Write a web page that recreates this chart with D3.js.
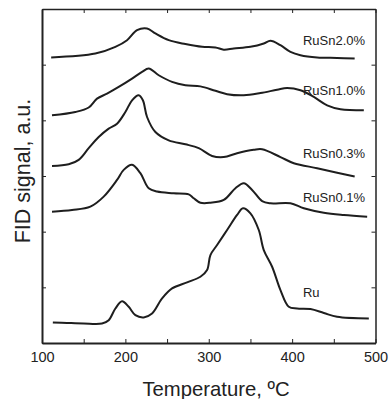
<!DOCTYPE html>
<html>
<head>
<meta charset="utf-8">
<script src="https://cdn.jsdelivr.net/npm/d3@7"></script>
<style>
  body { margin: 0; background: #fff; }
  svg { display: block; font-family: "Liberation Sans", Arial, sans-serif; }
  .axis path, .axis line { stroke: #222; }
  .axis text { fill: #222; font-size: 14.5px; font-family: "Liberation Sans", Arial, sans-serif; }
  .line { fill: none; stroke: #1e1e1e; stroke-width: 2; }
</style>
</head>
<body>
<svg width="390" height="399"></svg>
<script>
// TPR curves, temperature in C, signal in a.u. (offset stack)
var ru20T = [111,164,188,202,214,226,236,252,272,292,308,318,330,350,366,374,386,398,410,430,454,475];
var ru20V = [5.13,5.20,5.32,5.44,5.62,5.65,5.56,5.44,5.37,5.32,5.31,5.27,5.29,5.32,5.38,5.43,5.35,5.23,5.17,5.13,5.12,5.11];

var ru10T = [112,140,156,166,178,192,208,220,228,240,256,272,290,308,322,342,362,382,394,410,426,442,458,486];
var ru10V = [4.09,4.15,4.23,4.39,4.48,4.60,4.75,4.87,4.93,4.81,4.69,4.63,4.61,4.53,4.47,4.45,4.49,4.55,4.58,4.54,4.42,4.27,4.20,4.18];

var ru03T = [112,132,144,156,168,180,190,200,208,216,221,226,236,252,272,288,304,318,334,354,364,386,402,430,454,475];
var ru03V = [3.18,3.21,3.29,3.50,3.70,3.85,3.94,4.15,4.36,4.45,4.36,4.06,3.79,3.64,3.57,3.50,3.36,3.34,3.41,3.47,3.48,3.34,3.23,3.14,3.06,2.99];

var ru01T = [112,136,158,174,190,198,208,218,228,238,258,276,282,290,302,318,332,342,352,364,374,398,414,438,462,490];
var ru01V = [2.36,2.39,2.45,2.63,2.93,3.11,3.20,3.05,2.78,2.72,2.69,2.67,2.60,2.52,2.52,2.57,2.78,2.87,2.75,2.55,2.51,2.51,2.42,2.34,2.30,2.27];

var ruT = [113,130,150,172,180,188,196,204,212,222,232,244,256,274,290,298,302,310,322,334,341,350,360,366,376,386,396,406,422,438,454,492];
var ruV = [0.37,0.36,0.35,0.35,0.41,0.62,0.75,0.65,0.50,0.46,0.53,0.80,0.98,1.09,1.19,1.31,1.58,1.76,2.03,2.30,2.42,2.33,2.03,1.67,1.37,0.95,0.65,0.62,0.61,0.54,0.47,0.44];

var seriesNames = ["RuSn2.0%","RuSn1.0%","RuSn0.3%","RuSn0.1%","Ru"];
var labelT = [413,413,413,413,413];
var labelV = [5.35,4.45,3.33,2.54,0.83];

var xTicks = [100,150,200,250,300,350,400,450,500];
var yTicks = [0,1,2,3,4,5,6];

var svg = d3.select("svg"),
  margin = {top: 9, right: 14.5, bottom: 56, left: 42},
  width = +svg.attr("width") - margin.left - margin.right,
  height = +svg.attr("height") - margin.top - margin.bottom,
  g = svg.append("g").attr("transform", "translate(" + margin.left + "," + margin.top + ")");

var x = d3.scaleLinear().domain([100, 500]).range([0, width]);
var y = d3.scaleLinear().domain([0, 6]).range([height, 0]);

var allT = [ru20T, ru10T, ru03T, ru01T, ruT];
var allV = [ru20V, ru10V, ru03V, ru01V, ruV];

var line = d3.line()
  .x(function(d) { return x(d[0]); })
  .y(function(d) { return y(d[1]); })
  .curve(d3.curveCatmullRom.alpha(0.5));

allT.forEach(function(ts, i) {
  var pts = ts.map(function(t, j) { return [t, allV[i][j]]; });
  g.append("path")
    .datum(pts)
    .attr("class", "line")
    .attr("d", line);
});

// frame axes, ticks inward
g.append("g")
  .attr("class", "axis")
  .attr("transform", "translate(0," + height + ")")
  .call(d3.axisBottom(x).tickValues(xTicks).tickSizeInner(-4).tickSizeOuter(0).tickPadding(9)
    .tickFormat(function(d) { return d % 100 === 0 ? d : ""; }))
  .call(function(a) { a.select(".domain").attr("stroke-width", 2); });

g.append("g")
  .attr("class", "axis")
  .call(d3.axisTop(x).tickValues(xTicks).tickSizeInner(-4).tickSizeOuter(0).tickFormat(""))
  .call(function(a) { a.select(".domain").attr("stroke-width", 1.5); });

g.append("g")
  .attr("class", "axis")
  .call(d3.axisLeft(y).tickValues(yTicks).tickSizeInner(-4).tickSizeOuter(0).tickFormat(""))
  .call(function(a) { a.select(".domain").attr("stroke-width", 2); });

g.append("g")
  .attr("class", "axis")
  .attr("transform", "translate(" + width + ",0)")
  .call(d3.axisRight(y).tickValues(yTicks).tickSizeInner(-4).tickSizeOuter(0).tickFormat(""))
  .call(function(a) { a.select(".domain").attr("stroke-width", 1.5); });

// series labels
seriesNames.forEach(function(name, i) {
  g.append("text")
    .attr("x", x(labelT[i]))
    .attr("y", y(labelV[i]))
    .attr("fill", "#222")
    .style("font-size", "13px")
    .text(name);
});

// axis titles
svg.append("text")
  .attr("x", 216)
  .attr("y", 396)
  .attr("text-anchor", "middle")
  .attr("fill", "#222")
  .style("font-size", "20.3px")
  .text("Temperature, ºC");

svg.append("text")
  .attr("transform", "translate(30,171) rotate(-90)")
  .attr("text-anchor", "middle")
  .attr("fill", "#222")
  .style("font-size", "21.5px")
  .text("FID signal, a.u.");
</script>
</body>
</html>
